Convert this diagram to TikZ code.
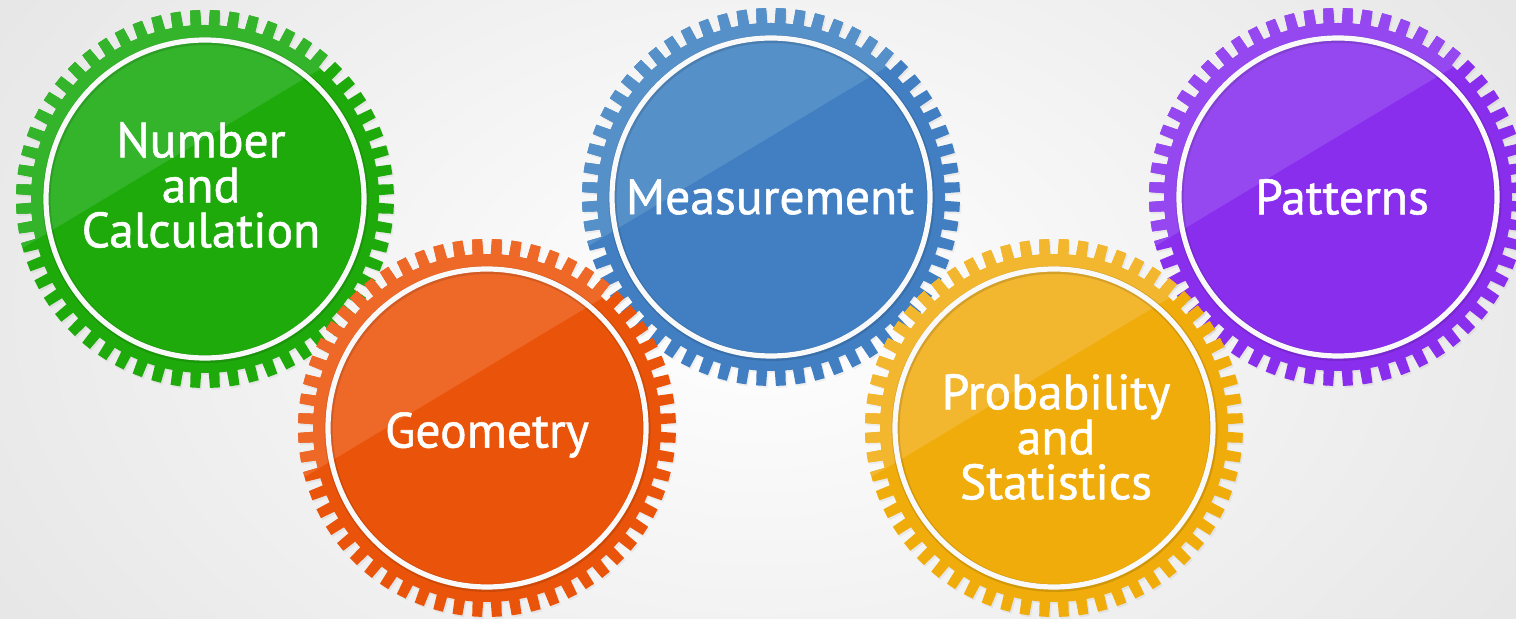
\documentclass[tikz,border=0pt]{standalone}
\usepackage{fontspec}
\setmainfont{PT Sans}[FakeBold=1.1]
\begin{document}
\begin{tikzpicture}[x=0.5pt,y=-0.5pt]
\definecolor{bgedge}{HTML}{E6E6E6}
\definecolor{gdark}{HTML}{1FAA0C}\definecolor{glight}{HTML}{34B42B}
\definecolor{odark}{HTML}{EA540A}\definecolor{olight}{HTML}{EE6828}
\definecolor{bdark}{HTML}{417FC2}\definecolor{blight}{HTML}{5590C9}
\definecolor{ydark}{HTML}{F0AC0B}\definecolor{ylight}{HTML}{F2B72E}
\definecolor{pdark}{HTML}{8A2EEE}\definecolor{plight}{HTML}{9648F0}
\tikzset{gearlabel/.style={text=white,font=\fontsize{24.8}{22.5}\selectfont,align=center,inner sep=0pt}}
\def\gearpath{(0.0:174) \foreach \i in {0,...,59}{ -- ({\i*6+1.25}:174) -- ({\i*6+1.5}:189) -- ({\i*6+4.5}:189) -- ({\i*6+4.75}:174) -- ({\i*6+6}:174)} -- cycle}
\newcommand\drawgear[4]{%
 \begin{scope}[shift={(#1,#2)}]
  \fill[black,opacity=0.05,shift={(1.5,2)}] \gearpath;
  \fill[#3] \gearpath;
  \begin{scope}
   \clip \gearpath;
   \fill[#4] (-369.6,161.4) -- (316,-250.6) -- (-400,-400) -- cycle;
  \end{scope}
  \draw[black,opacity=0.12,line width=4] (0.6,1) circle (159);
  \draw[white!95!gray,line width=2.6] (0,0) circle (159);
 \end{scope}}
% background
\useasboundingbox (0,0) rectangle (1516,619);
\shade[inner color=white,outer color=bgedge] (-150,-300) rectangle (1666,919);
% gears
\drawgear{205}{199}{gdark}{glight}
\drawgear{771}{197}{bdark}{blight}
\drawgear{1338}{197}{pdark}{plight}
\drawgear{487}{428}{odark}{olight}
\drawgear{1054}{428}{ydark}{ylight}
% labels
\node[gearlabel] (num) at (201,185) {Number\\and\\Calculation};
\node[gearlabel] (geo) at (487,435) {Geometry};
\node[gearlabel] (mea) at (770,197) {Measurement};
\node[gearlabel] (pro) at (1056,437) {Probability\\and\\Statistics};
\node[gearlabel] (pat) at (1342,197) {Patterns};
\end{tikzpicture}
\end{document}
